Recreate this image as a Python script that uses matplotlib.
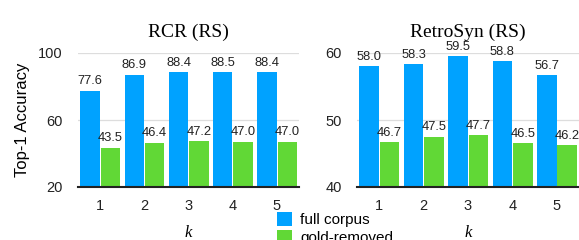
import numpy as np
import matplotlib.pyplot as plt

ks = [1, 2, 3, 4, 5]
rcr_full = [77.6, 86.9, 88.4, 88.5, 88.4]
rcr_gold = [43.5, 46.4, 47.2, 47.0, 47.0]
retro_full = [58.0, 58.3, 59.5, 58.8, 56.7]
retro_gold = [46.7, 47.5, 47.7, 46.5, 46.2]

BLUE = '#00A2FF'
GREEN = '#61D836'
SANS = 'Liberation Sans'
SERIF = 'Liberation Serif'

fig = plt.figure(figsize=(5.79, 2.40), dpi=100)
ax1 = fig.add_axes([78 / 579, 1 - 187 / 240, 221 / 579, 134 / 240])
ax2 = fig.add_axes([357 / 579, 1 - 187 / 240, 222 / 579, 134 / 240])


def panel(ax, full, gold, title, ylim, yticks):
    x = np.array(ks, dtype=float)
    w = 0.44
    b1 = ax.bar(x - 0.225, full, w, color=BLUE, label='full corpus', zorder=2)
    b2 = ax.bar(x + 0.235, gold, w, color=GREEN, label='gold-removed', zorder=2)
    for bars, vals in ((b1, full), (b2, gold)):
        for r, v in zip(bars, vals):
            ax.annotate(f'{v:.1f}', (r.get_x() + r.get_width() / 2, v),
                        xytext=(0, 2.5), textcoords='offset points',
                        ha='center', va='bottom', fontsize=9.3,
                        family=SANS, color='#222222', clip_on=False)
    ax.set_xlim(0.5, 5.5)
    ax.set_ylim(*ylim)
    ax.set_yticks(yticks)
    ax.set_xticks(ks)
    ax.tick_params(length=0, labelsize=10.5, colors='#222222')
    ax.tick_params(axis='x', pad=9)
    ax.tick_params(axis='y', pad=11)
    for lab in ax.get_xticklabels() + ax.get_yticklabels():
        lab.set_family(SANS)
    ax.grid(axis='y', color='#dddddd', linewidth=0.9, zorder=0)
    for s in ('top', 'right', 'left'):
        ax.spines[s].set_visible(False)
    ax.spines['bottom'].set_linewidth(1.5)
    ax.spines['bottom'].set_color('#222222')
    ax.spines['bottom'].set_zorder(3)
    ax.set_title(title, family=SERIF, fontsize=14, pad=11.5)
    ax.set_xlabel('k', family=SERIF, style='italic', fontsize=12, labelpad=8)
    return b1, b2


b1, b2 = panel(ax1, rcr_full, rcr_gold, 'RCR (RS)', (20, 100), [20, 60, 100])
panel(ax2, retro_full, retro_gold, 'RetroSyn (RS)', (40, 60), [40, 50, 60])
ax1.set_ylabel('Top-1 Accuracy', family=SANS, fontsize=12, labelpad=6)

fig.legend([b1, b2], ['full corpus', 'gold-removed'],
           loc='upper left', bbox_to_anchor=(277 / 579, 1 - 212 / 240),
           frameon=False, borderpad=0, borderaxespad=0,
           handlelength=1.0, handleheight=1.0, handletextpad=0.5,
           labelspacing=0.2, prop={'family': SANS, 'size': 11})

fig.savefig('out.png', dpi=100)
